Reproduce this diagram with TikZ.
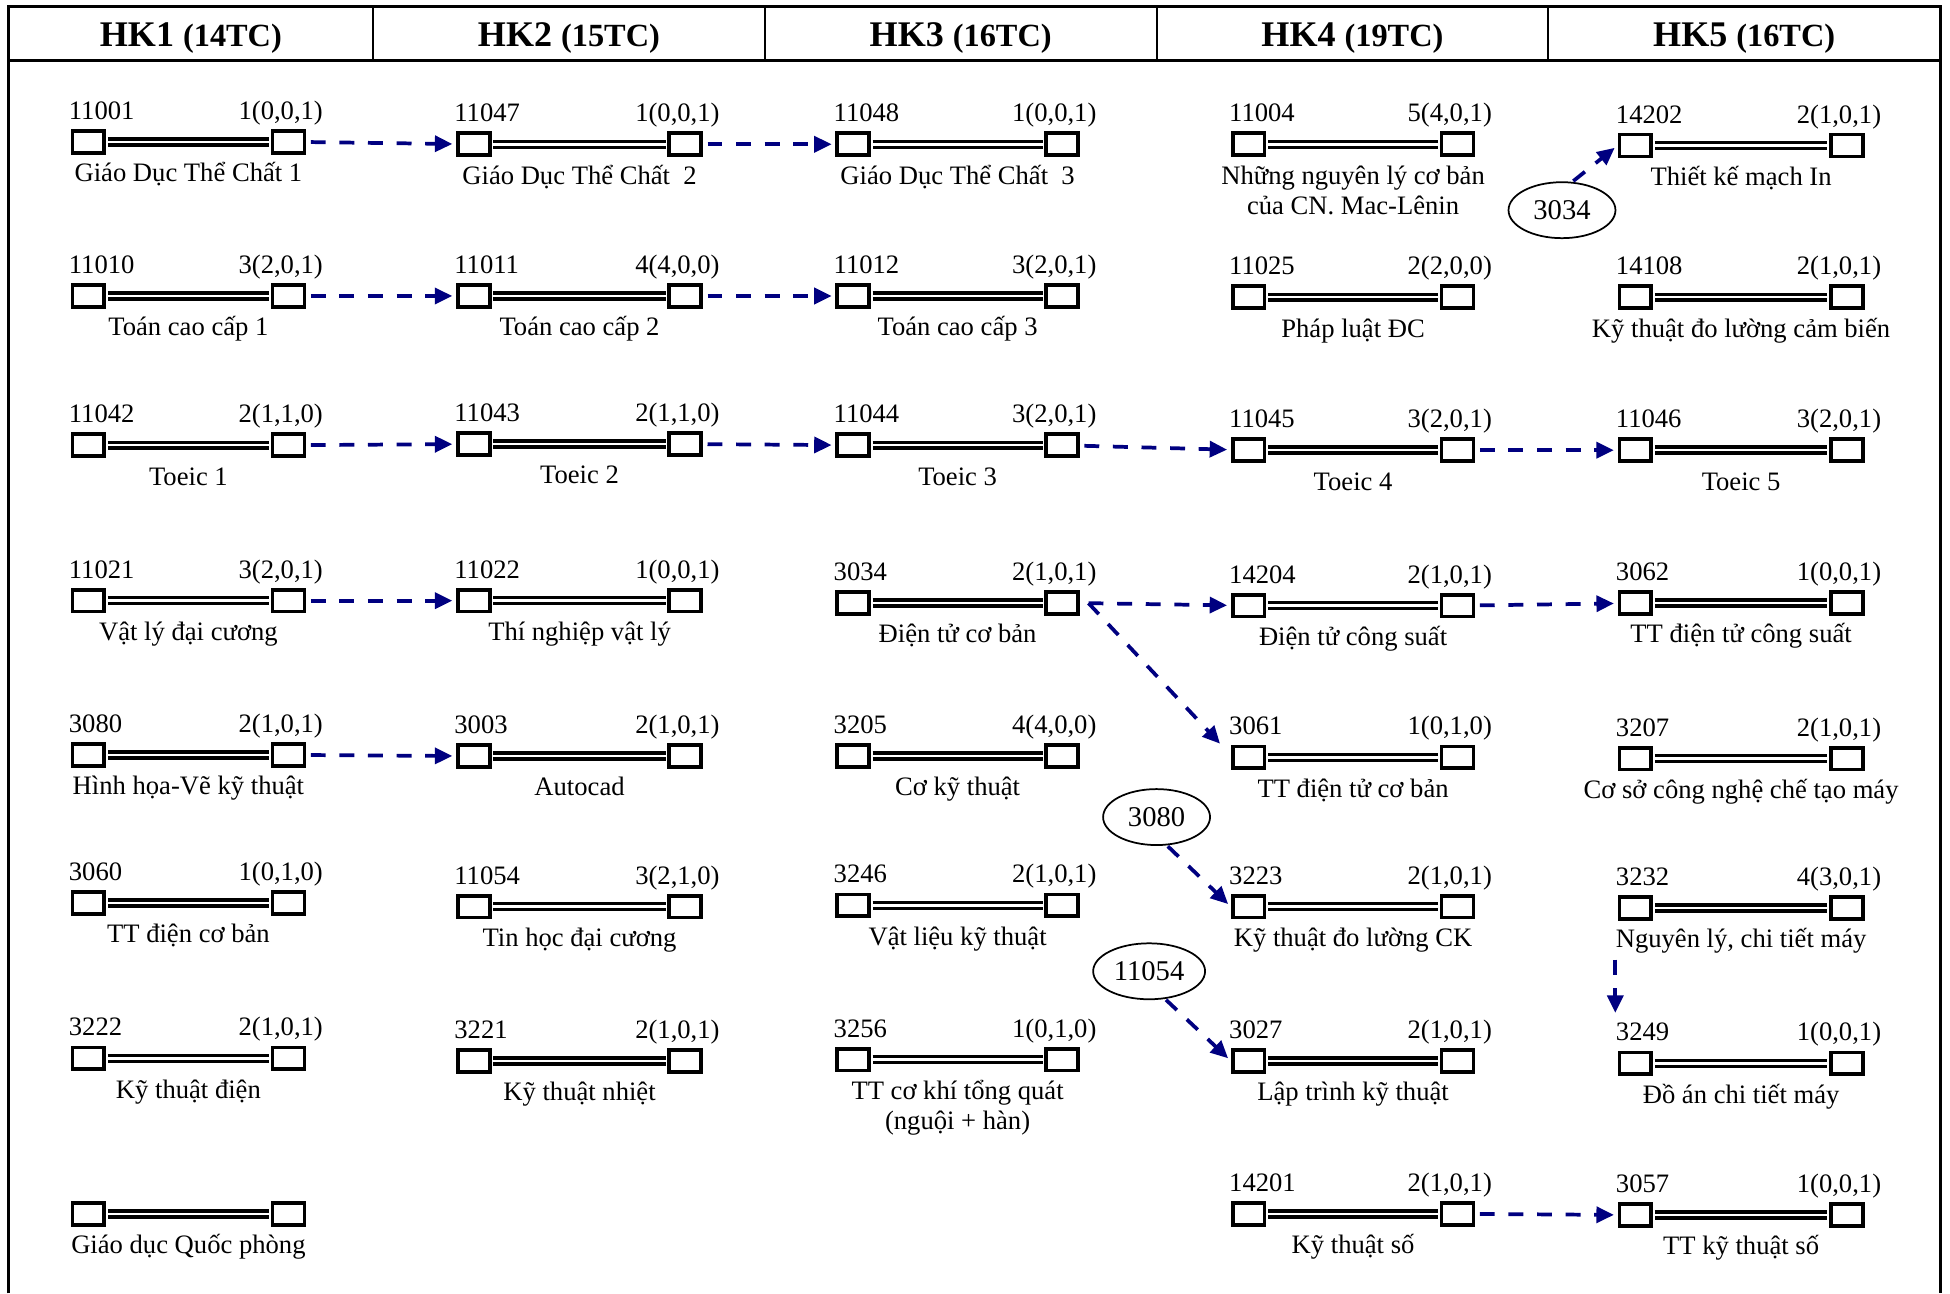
\documentclass[tikz,border=0pt]{standalone}
\usepackage{fontspec}
\setmainfont{Liberation Serif}
\usetikzlibrary{arrows.meta,shapes.geometric}
\definecolor{deparrow}{RGB}{0,0,128}
\tikzset{
  sq/.style={draw, line width=1.5pt, fill=white, minimum width=12.8pt, minimum height=8.8pt, inner sep=0pt},
  link/.style={draw, line width=1.4pt, double=white, double distance=1pt, shorten <=0.7pt, shorten >=0.7pt},
  lbl/.style={inner sep=0pt, font=\fontsize{10.7pt}{12.2pt}\selectfont},
  head/.style={anchor=base, inner sep=0pt, font=\fontsize{14.5pt}{17pt}\selectfont\bfseries},
  prereq/.style={draw, ellipse, line width=0.7pt, minimum width=43pt, minimum height=22.5pt, inner sep=0pt, font=\fontsize{11.5pt}{13pt}\selectfont},
  dep/.style={draw=deparrow, line width=1.5pt, dash pattern=on 6pt off 5.5pt, shorten <=1.8pt, shorten >=1.5pt, -{Triangle[length=7pt,width=6.4pt]}},
  frame/.style={line width=1.2pt},
  colrule/.style={line width=0.8pt}
}
% #1 name, #2 left x, #3 y, #4 span, #5 code, #6 credits, #7 title
\newcommand{\coursebar}[7]{%
  \node[sq] (#1-l) at ({#2+14},#3) {};
  \node[sq] (#1-r) at ({#2+#4-14},#3) {};
  \draw[link] (#1-l) -- (#1-r);
  \node[lbl, anchor=base west] (#1-code) at ({#2-2},{#3-18}) {#5};
  \node[lbl, anchor=base east] (#1-cr) at ({#2+#4+14},{#3-18}) {#6};
  \node[lbl, anchor=base] (#1-t) at ({#2+#4/2},{#3+32}) {\begin{tabular}[t]{@{}c@{}}#7\end{tabular}};
}
\begin{document}
\begin{tikzpicture}[x=0.5pt, y=-0.5pt]
        \useasboundingbox (0,0) rectangle (1568,1040);
        \draw[frame] (7,1040) -- (7,5) -- (1560,5) -- (1560,1040);
        \draw[frame] (7,49) -- (1560,49);
        \foreach \x in {300,615,930,1245} \draw[colrule] (\x,5) -- (\x,49);
        \node[head] (hk1) at (153.5,37) {HK1 {\fontsize{13pt}{15pt}\selectfont(14TC)}};
        \node[head] (hk2) at (457.5,37) {HK2 {\fontsize{13pt}{15pt}\selectfont(15TC)}};
        \node[head] (hk3) at (772.5,37) {HK3 {\fontsize{13pt}{15pt}\selectfont(16TC)}};
        \node[head] (hk4) at (1087.5,37) {HK4 {\fontsize{13pt}{15pt}\selectfont(19TC)}};
        \node[head] (hk5) at (1402.5,37) {HK5 {\fontsize{13pt}{15pt}\selectfont(16TC)}};

        \coursebar{c11001}{57}{114}{189}{11001}{1(0,0,1)}{Giáo Dục Thể Chất 1}
        \coursebar{c11010}{57}{238}{189}{11010}{3(2,0,1)}{Toán cao cấp 1}
        \coursebar{c11042}{57}{358}{189}{11042}{2(1,1,0)}{Toeic 1}
        \coursebar{c11021}{57}{483}{189}{11021}{3(2,0,1)}{Vật lý đại cương}
        \coursebar{c3080}{57}{607}{189}{3080}{2(1,0,1)}{Hình họa-Vẽ kỹ thuật}
        \coursebar{c3060}{57}{726}{189}{3060}{1(0,1,0)}{TT điện cơ bản}
        \coursebar{c3222}{57}{851}{189}{3222}{2(1,0,1)}{Kỹ thuật điện}
        \coursebar{gdqp}{57}{976}{189}{}{}{Giáo dục Quốc phòng}

        \coursebar{c11047}{367}{116}{198}{11047}{1(0,0,1)}{Giáo Dục Thể Chất~ 2}
        \coursebar{c11011}{367}{238}{198}{11011}{4(4,0,0)}{Toán cao cấp 2}
        \coursebar{c11043}{367}{357}{198}{11043}{2(1,1,0)}{Toeic 2}
        \coursebar{c11022}{367}{483}{198}{11022}{1(0,0,1)}{Thí nghiệp vật lý}
        \coursebar{c3003}{367}{608}{198}{3003}{2(1,0,1)}{Autocad}
        \coursebar{c11054}{367}{729}{198}{11054}{3(2,1,0)}{Tin học đại cương}
        \coursebar{c3221}{367}{853}{198}{3221}{2(1,0,1)}{Kỹ thuật nhiệt}

        \coursebar{c11048}{672}{116}{196}{11048}{1(0,0,1)}{Giáo Dục Thể Chất~ 3}
        \coursebar{c11012}{672}{238}{196}{11012}{3(2,0,1)}{Toán cao cấp 3}
        \coursebar{c11044}{672}{358}{196}{11044}{3(2,0,1)}{Toeic 3}
        \coursebar{c3034}{672}{485}{196}{3034}{2(1,0,1)}{Điện tử cơ bản}
        \coursebar{c3205}{672}{608}{196}{3205}{4(4,0,0)}{Cơ kỹ thuật}
        \coursebar{c3246}{672}{728}{196}{3246}{2(1,0,1)}{Vật liệu kỹ thuật}
        \coursebar{c3256}{672}{852}{196}{3256}{1(0,1,0)}{TT cơ khí tổng quát\\(nguội + hàn)}

        \coursebar{c11004}{990}{116}{196}{11004}{5(4,0,1)}{Những nguyên lý cơ bản\\của CN. Mac-Lênin}
        \coursebar{c11025}{990}{239}{196}{11025}{2(2,0,0)}{Pháp luật ĐC}
        \coursebar{c11045}{990}{362}{196}{11045}{3(2,0,1)}{Toeic 4}
        \coursebar{c14204}{990}{487}{196}{14204}{2(1,0,1)}{Điện tử công suất}
        \coursebar{c3061}{990}{609}{196}{3061}{1(0,1,0)}{TT điện tử cơ bản}
        \coursebar{c3223}{990}{729}{196}{3223}{2(1,0,1)}{Kỹ thuật đo lường CK}
        \coursebar{c3027}{990}{853}{196}{3027}{2(1,0,1)}{Lập trình kỹ thuật}
        \coursebar{c14201}{990}{976}{196}{14201}{2(1,0,1)}{Kỹ thuật số}

        \coursebar{c14202}{1301}{117}{198}{14202}{2(1,0,1)}{Thiết kế mạch In}
        \coursebar{c14108}{1301}{239}{198}{14108}{2(1,0,1)}{Kỹ thuật đo lường cảm biến}
        \coursebar{c11046}{1301}{362}{198}{11046}{3(2,0,1)}{Toeic 5}
        \coursebar{c3062}{1301}{485}{198}{3062}{1(0,0,1)}{TT điện tử công suất}
        \coursebar{c3207}{1301}{610}{198}{3207}{2(1,0,1)}{Cơ sở công nghệ chế tạo máy}
        \coursebar{c3232}{1301}{730}{198}{3232}{4(3,0,1)}{Nguyên lý, chi tiết máy}
        \coursebar{c3249}{1301}{855}{198}{3249}{1(0,0,1)}{Đồ án chi tiết máy}
        \coursebar{c3057}{1301}{977}{198}{3057}{1(0,0,1)}{TT kỹ thuật số}

        \node[prereq] (e3034) at (1256,169) {3034};
        \node[prereq] (e3080) at (930,657) {3080};
        \node[prereq, minimum width=45pt] (e11054) at (924,781) {11054};

        \draw[dep] (c11001-r) -- (c11047-l);
        \draw[dep] (c11047-r) -- (c11048-l);
        \draw[dep] (c11010-r) -- (c11011-l);
        \draw[dep] (c11011-r) -- (c11012-l);
        \draw[dep] (c11042-r) -- (c11043-l);
        \draw[dep] (c11043-r) -- (c11044-l);
        \draw[dep] (c11044-r) -- (c11045-l);
        \draw[dep] (c11045-r) -- (c11046-l);
        \draw[dep] (c11021-r) -- (c11022-l);
        \draw[dep] (c3080-r) -- (c3003-l);
        \draw[dep] (c14204-r) -- (c3062-l);
        \draw[dep] (c14201-r) -- (c3057-l);
        \coordinate (fork) at ([xshift=3.5pt]c3034-r.east);
        \draw[dep, shorten <=0pt] (fork) -- (c14204-l);
        \draw[dep, shorten <=0pt, shorten >=0.5pt] (fork) -- ([xshift=-4pt]c3061-l.north west);
        \draw[dep, shorten <=0.5pt] (e3034.70) -- (c14202-l.west);
        \draw[dep, shorten <=0.5pt] (e3080.-70) -- (c3223-l.west);
        \draw[dep, shorten <=0.5pt] (e11054.-60) -- (c3027-l.west);
        \draw[dep, shorten <=1pt, shorten >=4pt] (c3232-t.south west) -- (c3232-t.south west |- c3249-code.north);
\end{tikzpicture}
\end{document}
